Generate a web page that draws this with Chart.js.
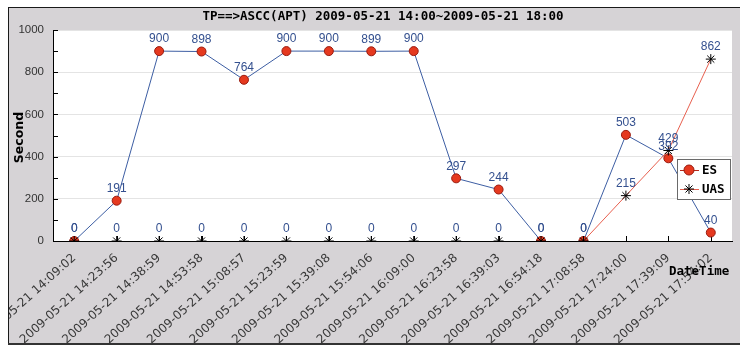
<!DOCTYPE html>
<html>
<head>
<meta charset="utf-8">
<script src="https://cdn.jsdelivr.net/npm/chart.js@4/dist/chart.umd.min.js"></script>
<style>
  html, body { margin: 0; padding: 0; background: #ffffff; }
  #wrap { width: 740px; height: 347px; }
</style>
</head>
<body>
<div id="wrap"><canvas id="c" width="740" height="347"></canvas></div>
<script>
// Sampling times (x categories)
const categories = [
  '2009-05-21 14:09:02', '2009-05-21 14:23:56', '2009-05-21 14:38:59', '2009-05-21 14:53:58',
  '2009-05-21 15:08:57', '2009-05-21 15:23:59', '2009-05-21 15:39:08', '2009-05-21 15:54:06',
  '2009-05-21 16:09:00', '2009-05-21 16:23:58', '2009-05-21 16:39:03', '2009-05-21 16:54:18',
  '2009-05-21 17:08:58', '2009-05-21 17:24:00', '2009-05-21 17:39:09', '2009-05-21 17:54:02'
];
// Errored seconds
const esValues  = [0, 191, 900, 898, 764, 900, 900, 899, 900, 297, 244, 0, 0, 503, 392, 40];
// Unavailable seconds
const uasValues = [0, 0, 0, 0, 0, 0, 0, 0, 0, 0, 0, 0, 0, 215, 429, 862];
// Labelled y ticks
const yTicks = [0, 200, 400, 600, 800, 1000];
const seriesNames = ['ES', 'UAS'];
const chartTitle = 'TP==>ASCC(APT) 2009-05-21 14:00~2009-05-21 18:00';
const xTitle = 'DateTime';
const yTitle = 'Second';

const PANEL = '#d6d3d6';
const LABEL_BLUE = '#34508f';
const MONO_BOLD = 'bold 12.5px "DejaVu Sans Mono", monospace';

// Hide runs that lie flat on the zero line (the axis already shows them)
const zeroRun = ctx => (ctx.p0.parsed.y === 0 && ctx.p1.parsed.y === 0) ? 'rgba(0,0,0,0)' : undefined;

const decor = {
  id: 'decor',
  beforeDraw(chart) {
    const { ctx, chartArea: a } = chart;
    ctx.save();
    ctx.fillStyle = '#ffffff';
    ctx.fillRect(0, 0, chart.width, chart.height);
    ctx.fillStyle = PANEL;
    ctx.fillRect(8, 7, chart.width - 8, 337);
    ctx.fillStyle = '#ffffff';
    ctx.fillRect(a.left, a.top, a.right - a.left, a.bottom - a.top);
    ctx.restore();
  },
  beforeDatasetsDraw(chart) {
    // short inward tick marks on both axes
    const { ctx, chartArea: a, scales } = chart;
    ctx.save();
    ctx.strokeStyle = '#000';
    ctx.lineWidth = 1;
    ctx.beginPath();
    scales.y.ticks.forEach(t => {
      const y = Math.round(scales.y.getPixelForValue(t.value)) + 0.5;
      ctx.moveTo(a.left, y); ctx.lineTo(a.left + 5, y);
    });
    categories.forEach((c, i) => {
      const x = Math.round(scales.x.getPixelForValue(i)) + 0.5;
      ctx.moveTo(x, a.bottom); ctx.lineTo(x, a.bottom - 5);
    });
    ctx.stroke();
    ctx.restore();
  },
  afterDatasetsDraw(chart) {
    // value labels above every point
    const { ctx } = chart;
    ctx.save();
    ctx.font = '12px "Liberation Sans", Arial, sans-serif';
    ctx.fillStyle = LABEL_BLUE;
    ctx.textAlign = 'center';
    ctx.textBaseline = 'middle';
    chart.data.datasets.forEach((ds, di) => {
      const meta = chart.getDatasetMeta(di);
      meta.data.forEach((pt, i) => {
        ctx.fillText(String(ds.data[i]), pt.x, pt.y - 12);
      });
    });
    ctx.restore();
  },
  afterDraw(chart) {
    const { ctx, chartArea: a } = chart;
    ctx.save();
    // panel edges
    ctx.fillStyle = '#ffffff';
    ctx.fillRect(0, 0, 8, chart.height);
    ctx.fillRect(0, 0, chart.width, 7);
    ctx.fillRect(0, 345, chart.width, chart.height - 345);
    ctx.fillStyle = '#1a1a1a';
    ctx.fillRect(8, 7, chart.width - 8, 1);
    ctx.fillRect(8, 7, 1, 338);
    ctx.fillStyle = '#333333';
    ctx.fillRect(8, 343, chart.width - 8, 2);

    // title
    ctx.fillStyle = '#000';
    ctx.font = MONO_BOLD;
    ctx.textAlign = 'center';
    ctx.textBaseline = 'middle';
    ctx.fillText(chartTitle, 383, 17);

    // x axis title
    ctx.textAlign = 'left';
    ctx.fillText(xTitle, 669, 272);

    // y axis title
    ctx.save();
    ctx.translate(20, (a.top + a.bottom) / 2 + 2);
    ctx.rotate(-Math.PI / 2);
    ctx.textAlign = 'center';
    ctx.font = 'bold 12.5px "DejaVu Sans", sans-serif';
    ctx.fillText(yTitle, 0, 0);
    ctx.restore();

    // legend
    const lx = 677, ly = 159, lw = 54, lh = 41;
    ctx.fillStyle = '#ffffff';
    ctx.fillRect(lx, ly, lw, lh);
    ctx.strokeStyle = '#6a6a6a';
    ctx.lineWidth = 1;
    ctx.strokeRect(lx + 0.5, ly + 0.5, lw - 1, lh - 1);
    const rows = [ly + 11, ly + 30];
    const es = chart.data.datasets[0], uas = chart.data.datasets[1];
    // ES entry
    ctx.strokeStyle = '#b52a1c';
    ctx.beginPath(); ctx.moveTo(lx + 3, rows[0] + 0.5); ctx.lineTo(lx + 22, rows[0] + 0.5); ctx.stroke();
    ctx.fillStyle = es.pointBackgroundColor;
    ctx.strokeStyle = es.pointBorderColor;
    ctx.beginPath(); ctx.arc(lx + 12, rows[0], 5, 0, Math.PI * 2); ctx.fill(); ctx.stroke();
    // UAS entry
    ctx.strokeStyle = uas.borderColor;
    ctx.beginPath(); ctx.moveTo(lx + 3, rows[1] + 0.5); ctx.lineTo(lx + 22, rows[1] + 0.5); ctx.stroke();
    ctx.strokeStyle = '#000';
    Chart.helpers.drawPoint(ctx, { pointStyle: 'star', radius: 5, borderWidth: 1 }, lx + 12, rows[1]);
    ctx.fillStyle = '#000';
    ctx.font = MONO_BOLD;
    ctx.textAlign = 'left';
    ctx.fillText(seriesNames[0], lx + 25, rows[0] + 1);
    ctx.fillText(seriesNames[1], lx + 25, rows[1] + 1);
    ctx.restore();
  }
};

new Chart(document.getElementById('c'), {
  type: 'line',
  data: {
    labels: categories,
    datasets: [
      {
        label: seriesNames[0],
        data: esValues,
        borderColor: '#3d5ea3',
        borderWidth: 1,
        pointStyle: 'circle',
        pointRadius: 4.5,
        pointHoverRadius: 4.5,
        pointBackgroundColor: '#e5391f',
        pointBorderColor: '#9a1c10',
        pointBorderWidth: 1,
        tension: 0,
        order: 2,
        segment: { borderColor: zeroRun }
      },
      {
        label: seriesNames[1],
        data: uasValues,
        borderColor: '#e8604f',
        borderWidth: 1,
        pointStyle: 'star',
        pointRadius: 5,
        pointHoverRadius: 5,
        pointBackgroundColor: '#000',
        pointBorderColor: '#000',
        pointBorderWidth: 1,
        tension: 0,
        order: 1,
        segment: { borderColor: zeroRun }
      }
    ]
  },
  options: {
    responsive: false,
    devicePixelRatio: 1,
    animation: false,
    layout: { padding: { left: 0, top: 30, right: 8, bottom: 0 } },
    plugins: {
      legend: { display: false },
      tooltip: { enabled: false },
      title: { display: false }
    },
    scales: {
      x: {
        type: 'category',
        offset: true,
        grid: { display: false, drawTicks: false },
        border: { color: '#000', width: 1 },
        ticks: {
          autoSkip: false,
          minRotation: 42,
          maxRotation: 42,
          padding: 10,
          color: '#383838',
          font: { family: '"DejaVu Sans", sans-serif', size: 12 }
        },
        afterFit(s) { s.height = 106; s.paddingLeft = 0; s.paddingRight = 0; }
      },
      y: {
        min: 0,
        max: 1000,
        grid: {
          drawTicks: false,
          color: c => yTicks.includes(c.tick.value) ? '#e4e4e4' : 'rgba(0,0,0,0)'
        },
        border: { color: '#000', width: 1 },
        ticks: {
          stepSize: 100,
          padding: 9,
          color: '#333',
          font: { family: '"Liberation Sans", Arial, sans-serif', size: 11.5 },
          callback: v => yTicks.includes(v) ? String(v) : ''
        },
        afterFit(s) { s.width = 53; }
      }
    }
  },
  plugins: [decor]
});
</script>
</body>
</html>
